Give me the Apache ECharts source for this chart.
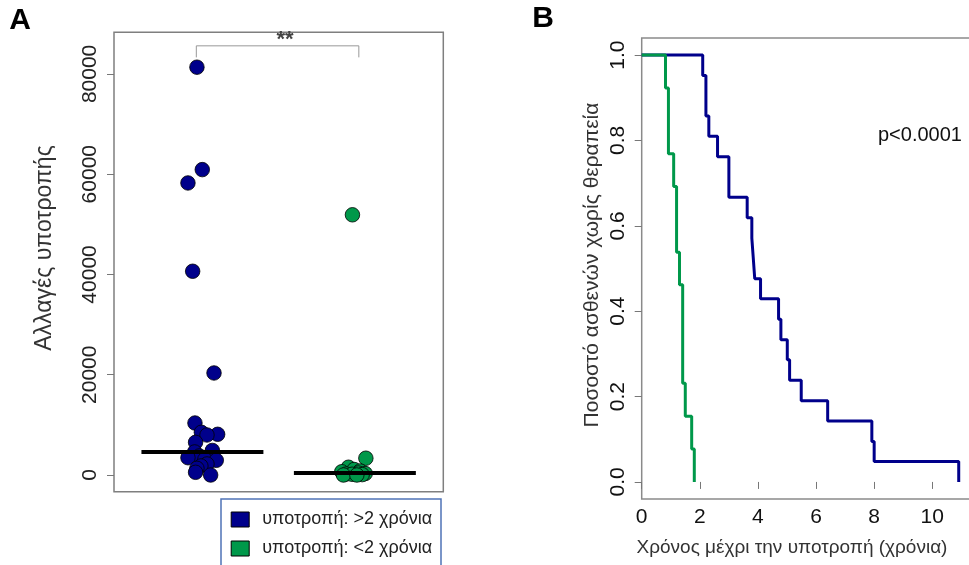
<!DOCTYPE html>
<html><head><meta charset="utf-8">
<script src="https://cdn.jsdelivr.net/npm/echarts@6/dist/echarts.min.js"></script>
<style>html,body{margin:0;padding:0;background:#fff}#c{width:969px;height:565px}</style>
</head><body><div id="c"></div>
<script>
// ---------- Panel A data ----------
const groupNames = ['υποτροπή: >2 χρόνια', 'υποτροπή: <2 χρόνια'];
const groupPos = [1, 2];
const blueValues = [81340, 60910, 58250, 40640, 20350, 10370, 8520, 8120, 7980, 6520, 4900, 4600, 3800, 3450, 3130, 2930, 2200, 1800, 1340, 540, 0];
const blueJitter = [-0.036, -0.001, -0.095, -0.064, 0.076, -0.049, -0.007, 0.100, 0.030, -0.045, 0.065, -0.051, -0.020, -0.095, 0.016, 0.091, 0.030, -0.010, -0.036, -0.045, 0.054];
const greenValues = [51900, 3350, 1550, 1100, 800, 650, 400, 300, 200, 150, 80, 0, 0];
const greenJitter = [-0.016, 0.072, -0.042, -0.005, 0.035, -0.086, 0.022, 0.068, -0.057, -0.018, 0.048, -0.075, 0.013];
const groupMedians = [4600, 400];
const yTicksA = [0, 20000, 40000, 60000, 80000];
const yTitleA = 'Αλλαγές υποτροπής';
const sigLabel = '**';

// ---------- Panel B data ----------
const kmBlueTime = [0, 2.10, 2.21, 2.31, 2.61, 3.00, 3.63, 3.79, 3.84, 3.89, 4.09, 4.71, 4.79, 5.01, 5.09, 5.49, 6.40, 7.92, 8.00, 10.91];
const kmBlueSurv = [1, 0.952, 0.857, 0.810, 0.762, 0.667, 0.619, 0.571, 0.524, 0.476, 0.429, 0.381, 0.333, 0.286, 0.238, 0.190, 0.143, 0.095, 0.048, 0];
const kmGreenTime = [0, 0.82, 0.92, 1.10, 1.20, 1.30, 1.41, 1.50, 1.72, 1.81];
const kmGreenSurv = [1, 0.923, 0.769, 0.692, 0.538, 0.462, 0.231, 0.154, 0.077, 0];
const xTicksB = [0, 2, 4, 6, 8, 10];
const yTicksB = [0, 0.2, 0.4, 0.6, 0.8, 1.0];
const xTitleB = 'Χρόνος μέχρι την υποτροπή (χρόνια)';
const yTitleB = 'Ποσοστό ασθενών χωρίς θεραπεία';
const pText = 'p<0.0001';

const BLUE = '#00008B', GREEN = '#00984A';
const FF = '"Liberation Sans", Arial, sans-serif';
const chart = echarts.init(document.getElementById('c'), null, {renderer: 'canvas'});

const medianHalf = 0.4;
const medianSeries = groupMedians.map((m, i) => ({
  type: 'line', xAxisIndex: 0, yAxisIndex: 0, symbol: 'none', silent: true, z: 5,
  data: [[groupPos[i] - medianHalf, m], [groupPos[i] + medianHalf, m]],
  lineStyle: {color: '#000', width: 4}
}));

const option = {
  animation: false,
  backgroundColor: '#fff',
  textStyle: {fontFamily: FF},
  grid: [
    {left: 114, top: 32.3, width: 329.3, height: 459.4, show: true, borderColor: '#7f7f7f', borderWidth: 1.5, backgroundColor: 'transparent', outerBoundsMode: 'none'},
    {left: 641.7, top: 38, width: 348.7, height: 461, show: true, borderColor: '#8a8a8a', borderWidth: 1.5, backgroundColor: 'transparent', outerBoundsMode: 'none'}
  ],
  xAxis: [
    {gridIndex: 0, type: 'value', min: 0.42, max: 2.58, show: false, splitLine: {show: false}},
    {gridIndex: 1, type: 'value', min: 0, max: 12,
      axisLine: {show: false}, splitLine: {show: false},
      axisTick: {show: true, length: 7, lineStyle: {color: '#777'}, customValues: xTicksB},
      axisLabel: {customValues: xTicksB, fontSize: 21, color: '#111', margin: 8}}
  ],
  yAxis: [
    {gridIndex: 0, type: 'value', min: -3330, max: 88300,
      axisLine: {show: false}, splitLine: {show: false},
      axisTick: {show: true, length: 7, lineStyle: {color: '#777'}, customValues: yTicksA},
      axisLabel: {customValues: yTicksA, rotate: 90, fontSize: 21, color: '#222', margin: 13,
        formatter: v => String(Math.round(v))}},
    {gridIndex: 1, type: 'value', min: -0.04, max: 1.04,
      axisLine: {show: false}, splitLine: {show: false},
      axisTick: {show: true, length: 7, lineStyle: {color: '#777'}, customValues: yTicksB},
      axisLabel: {customValues: yTicksB, rotate: 90, fontSize: 21, color: '#111', margin: 13,
        formatter: v => Number(v).toFixed(1)}}
  ],
  legend: {
    data: groupNames, orient: 'vertical', left: 230.7, top: 510.5, padding: 0,
    icon: 'rect', itemWidth: 18, itemHeight: 15, itemGap: 11, selectedMode: false,
    itemStyle: {borderColor: '#000', borderWidth: 1},
    textStyle: {fontSize: 18, color: '#222', lineHeight: 18, padding: [0, 0, 0, 8], fontFamily: FF}
  },
  series: [
    {type: 'scatter', name: groupNames[0], xAxisIndex: 0, yAxisIndex: 0, symbolSize: 14.5, z: 3,
      data: blueValues.map((v, i) => [groupPos[0] + blueJitter[i], v]),
      itemStyle: {color: BLUE, borderColor: '#000', borderWidth: 0.8, opacity: 1}},
    {type: 'scatter', name: groupNames[1], xAxisIndex: 0, yAxisIndex: 0, symbolSize: 14.5, z: 3,
      data: greenValues.map((v, i) => [groupPos[1] + greenJitter[i], v]),
      itemStyle: {color: GREEN, borderColor: '#000', borderWidth: 0.8, opacity: 1}},
    ...medianSeries,
    {type: 'line', xAxisIndex: 0, yAxisIndex: 0, symbol: 'none', silent: true,
      data: [[0.96, 83300], [0.96, 85600], [2.026, 85600], [2.026, 83300]],
      lineStyle: {color: '#999', width: 1}},
    {type: 'line', xAxisIndex: 1, yAxisIndex: 1, step: 'end', symbol: 'none', silent: true,
      data: kmBlueTime.map((t, i) => [t, kmBlueSurv[i]]),
      lineStyle: {color: BLUE, width: 3}},
    {type: 'line', xAxisIndex: 1, yAxisIndex: 1, step: 'end', symbol: 'none', silent: true,
      data: kmGreenTime.map((t, i) => [t, kmGreenSurv[i]]),
      lineStyle: {color: GREEN, width: 3}}
  ],
  graphic: [
    {type: 'rect', shape: {x: 221, y: 499, width: 220, height: 90}, z: 0,
      style: {fill: '#fff', stroke: '#4f73b7', lineWidth: 1.5}},
    {type: 'text', x: 20, y: 21, z: 10, style: {text: 'A', fontSize: 30, fontWeight: 'bold', fontFamily: FF, fill: '#000', align: 'center', verticalAlign: 'middle'}},
    {type: 'text', x: 543, y: 19, z: 10, style: {text: 'B', fontSize: 30, fontWeight: 'bold', fontFamily: FF, fill: '#000', align: 'center', verticalAlign: 'middle'}},
    {type: 'text', x: 45, y: 248, rotation: Math.PI / 2, z: 10, style: {text: yTitleA, fontSize: 23, fontFamily: FF, fill: '#333', align: 'center', verticalAlign: 'middle'}},
    {type: 'text', x: 592, y: 265, rotation: Math.PI / 2, z: 10, style: {text: yTitleB, fontSize: 21, fontFamily: FF, fill: '#333', align: 'center', verticalAlign: 'middle'}},
    {type: 'text', x: 792, y: 548, z: 10, style: {text: xTitleB, fontSize: 19, fontFamily: FF, fill: '#333', align: 'center', verticalAlign: 'middle'}},
    {type: 'text', x: 878, y: 135, z: 10, style: {text: pText, fontSize: 20, fontFamily: FF, fill: '#111', align: 'left', verticalAlign: 'middle'}},
    {type: 'text', x: 285, y: 40, z: 10, style: {text: sigLabel, fontSize: 22, fontWeight: 'bold', fontFamily: FF, fill: '#444', align: 'center', verticalAlign: 'middle'}}
  ]
};
chart.setOption(option);
</script>
</body></html>
